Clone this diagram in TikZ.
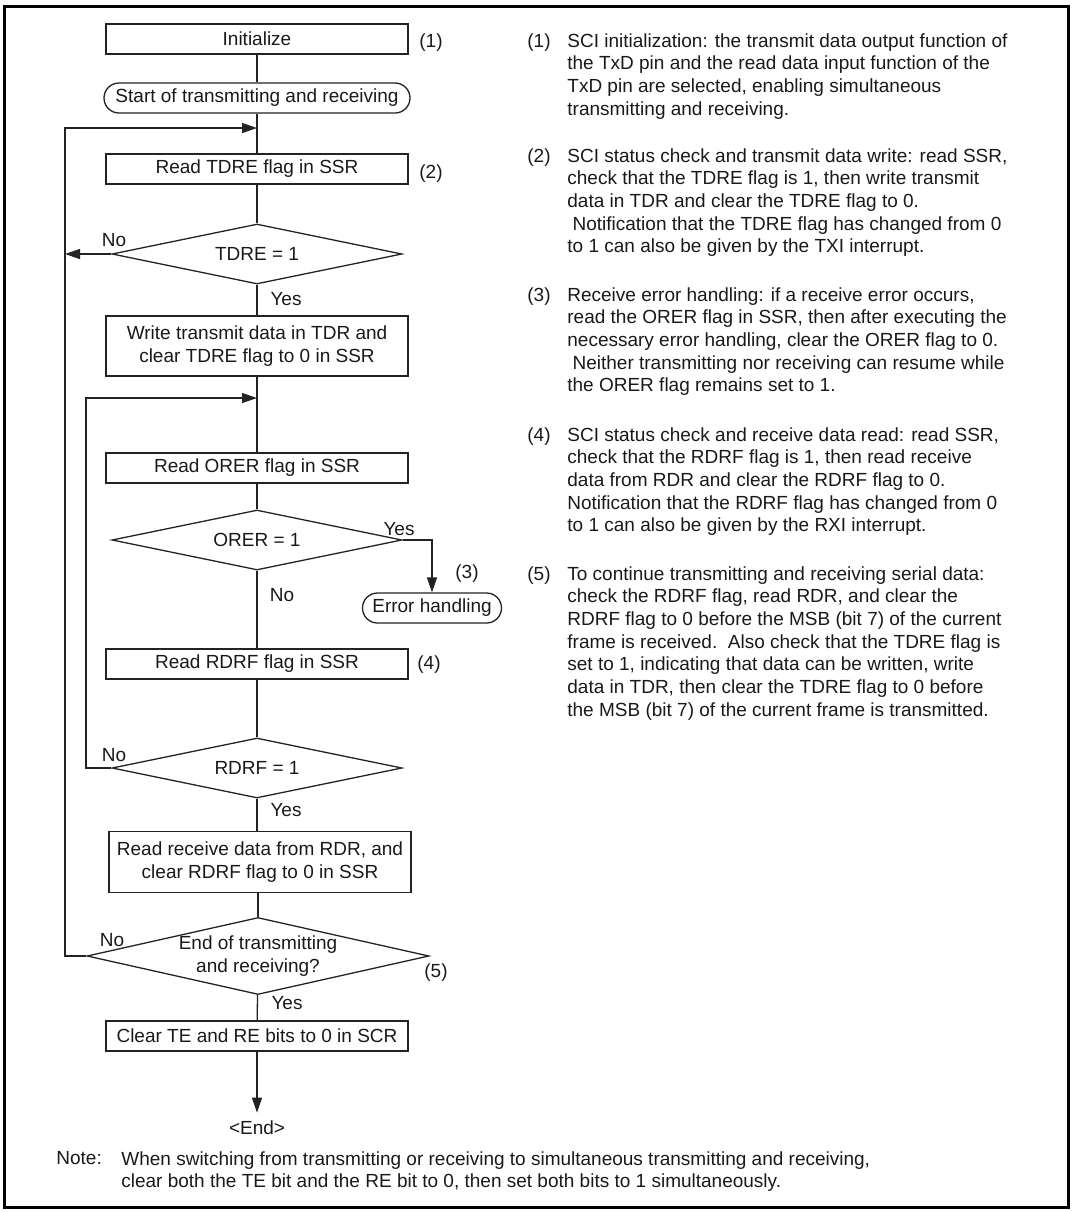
\documentclass[tikz,border=0pt]{standalone}
\usepackage{fontspec}
\setmainfont{Liberation Sans}
\usetikzlibrary{arrows.meta, positioning, shapes.geometric, calc}
\definecolor{flowline}{RGB}{35,35,35}
\definecolor{flowtext}{RGB}{25,25,25}

\begin{document}
\begin{tikzpicture}[
  x=0.5pt, y=-0.5pt,
  font=\fontsize{9.5}{11.35}\selectfont, text=flowtext,
  proc/.style={rectangle, draw=flowline, line width=0.65pt, minimum width=151pt,
               minimum height=15pt, inner sep=0pt, align=center},
  term/.style={rectangle, rounded corners=7.5pt, draw=flowline, line width=0.65pt,
               minimum height=15pt, inner sep=0pt, align=center},
  dec/.style={diamond, draw=flowline, line width=0.65pt, minimum width=145pt,
              minimum height=30pt, aspect=4.8, inner sep=0pt, align=center},
  lbl/.style={inner sep=0pt},
  desc/.style={anchor=north west, inner sep=0pt, align=left},
  link/.style={draw=flowline, line width=0.65pt},
  arr/.style={link, -{Triangle[length=7.5pt, width=5pt]}}]

  \useasboundingbox (0,0) rectangle (1073,1212);
  \draw[line width=1.5pt] (4,6) rectangle (1068,1207);

  % flow chart
  \node[proc] (init) at (257,39) {Initialize};
  \node[lbl] (c1) at (431,43) {(1)};
  \node[term, minimum width=153pt] (start) at (257,98) {Start of transmitting and receiving};
  \coordinate (j1) at (257,128);
  \node[proc] (rdtdre) at (257,169) {Read TDRE flag in SSR};
  \node[lbl] (c2) at (431,174) {(2)};
  \node[dec] (tdre) at (257,254) {TDRE = 1};
  \node[proc, minimum height=30pt] (wrtdr) at (257,346) {Write transmit data in TDR and\\clear TDRE flag to 0 in SSR};
  \coordinate (j2) at (257,398);
  \node[proc] (rdorer) at (257,468) {Read ORER flag in SSR};
  \node[dec] (orer) at (257,540) {ORER = 1};
  \node[term, minimum width=69.5pt] (errh) at (432,608) {Error handling};
  \node[lbl] (c3) at (467,574) {(3)};
  \node[proc] (rdrdrf) at (257,664) {Read RDRF flag in SSR};
  \node[lbl] (c4) at (429,665) {(4)};
  \node[dec] (rdrf) at (257,768) {RDRF = 1};
  \node[proc, minimum height=30.5pt] (rdrdr) at (260,862) {Read receive data from RDR, and\\clear RDRF flag to 0 in SSR};
  \node[dec, minimum width=171pt, minimum height=38.5pt, aspect=4.44] (fin) at (258,956) {End of transmitting\\and receiving?};
  \node[lbl] (c5) at (436,973) {(5)};
  \node[proc] (clrbits) at (257,1036) {Clear TE and RE bits to 0 in SCR};
  \node[lbl, inner ysep=4pt] (endt) at (257,1128) {<End>};

  \node[lbl] (no1) at (114,240) {No};
  \node[lbl] (yes1) at (286,299) {Yes};
  \node[lbl] (yes2) at (399,529) {Yes};
  \node[lbl] (no2) at (282,595) {No};
  \node[lbl] (no3) at (114,755) {No};
  \node[lbl] (yes3) at (286,810) {Yes};
  \node[lbl] (no4) at (112,940) {No};
  \node[lbl] (yes4) at (287,1003) {Yes};

  \coordinate (outer) at (65,0);
  \coordinate (inner) at (86,0);

  \draw[link] (init) -- (start);
  \draw[link] (start) -- (rdtdre);
  \draw[link] (rdtdre) -- (tdre);
  \draw[link] (tdre) -- (wrtdr);
  \draw[link] (wrtdr) -- (rdorer);
  \draw[link] (rdorer) -- (orer);
  \draw[link] (orer) -- (rdrdrf);
  \draw[link] (rdrdrf) -- (rdrf);
  \draw[link] (rdrf.south) -- (rdrf.south |- rdrdr.north);
  \draw[link] (fin.north |- rdrdr.south) -- (fin.north);
  \draw[link] (fin) -- (clrbits);
  \draw[arr] (clrbits) -- (endt);
  \draw[arr] (orer.east) -| (errh.north);
  \draw[arr] (tdre.west) -- (outer |- tdre.west);
  \draw[arr] (fin.west) -| (outer |- j1) -- (j1);
  \draw[arr] (rdrf.west) -| (inner |- j2) -- (j2);

  % notes on the right
  \node[lbl, anchor=north west] (n1) at (527,33) {(1)};
  \node[desc] (d1) at (567,33) {SCI initialization: the transmit data output function of\\
    the TxD pin and the read data input function of the\\
    TxD pin are selected, enabling simultaneous\\
    transmitting and receiving.};
  \node[lbl, anchor=north west] (n2) at (527,148) {(2)};
  \node[desc] (d2) at (567,148) {SCI status check and transmit data write: read SSR,\\
    check that the TDRE flag is 1, then write transmit\\
    data in TDR and clear the TDRE flag to 0.\\
    \hspace*{2.6pt}Notification that the TDRE flag has changed from 0\\
    to 1 can also be given by the TXI interrupt.};
  \node[lbl, anchor=north west] (n3) at (527,287) {(3)};
  \node[desc] (d3) at (567,287) {Receive error handling: if a receive error occurs,\\
    read the ORER flag in SSR, then after executing the\\
    necessary error handling, clear the ORER flag to 0.\\
    \hspace*{2.6pt}Neither transmitting nor receiving can resume while\\
    the ORER flag remains set to 1.};
  \node[lbl, anchor=north west] (n4) at (527,427) {(4)};
  \node[desc] (d4) at (567,427) {SCI status check and receive data read: read SSR,\\
    check that the RDRF flag is 1, then read receive\\
    data from RDR and clear the RDRF flag to 0.\\
    Notification that the RDRF flag has changed from 0\\
    to 1 can also be given by the RXI interrupt.};
  \node[lbl, anchor=north west] (n5) at (527,566) {(5)};
  \node[desc] (d5) at (567,566) {To continue transmitting and receiving serial data:\\
    check the RDRF flag, read RDR, and clear the\\
    RDRF flag to 0 before the MSB (bit 7) of the current\\
    frame is received.\ \ Also check that the TDRE flag is\\
    set to 1, indicating that data can be written, write\\
    data in TDR, then clear the TDRE flag to 0 before\\
    the MSB (bit 7) of the current frame is transmitted.};

  % note at the bottom
  \node[lbl, anchor=north west] (notehd) at (56,1151) {Note:};
  \node[desc] (notebody) at (121,1151) {When switching from transmitting or receiving to simultaneous transmitting and receiving,\\
    clear both the TE bit and the RE bit to 0, then set both bits to 1 simultaneously.};
\end{tikzpicture}
\end{document}
